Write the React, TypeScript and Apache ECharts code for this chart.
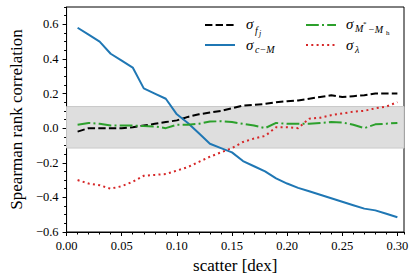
import React, { useEffect, useRef } from "react";
import * as echarts from "echarts";

const scatter = [
  0.01, 0.02, 0.03, 0.04, 0.05, 0.06, 0.07, 0.08, 0.09, 0.1,
  0.11, 0.12, 0.13, 0.14, 0.15, 0.16, 0.17, 0.18, 0.19, 0.2,
  0.21, 0.22, 0.23, 0.24, 0.25, 0.26, 0.27, 0.28, 0.29, 0.3,
];
const sigmaFj = [
  -0.02, 0.0, 0.0, 0.0, 0.0, 0.005, 0.015, 0.025, 0.035, 0.045,
  0.065, 0.08, 0.09, 0.1, 0.115, 0.13, 0.135, 0.14, 0.15, 0.155,
  0.16, 0.17, 0.18, 0.19, 0.18, 0.185, 0.19, 0.2, 0.2, 0.2,
];
const sigmaCM = [
  0.58, 0.54, 0.5, 0.43, 0.39, 0.35, 0.23, 0.2, 0.17, 0.08,
  0.03, -0.03, -0.09, -0.115, -0.14, -0.19, -0.22, -0.25, -0.29, -0.32,
  -0.345, -0.365, -0.385, -0.405, -0.425, -0.445, -0.465, -0.475, -0.495, -0.515,
];
const sigmaMsMh = [
  0.02, 0.03, 0.025, 0.015, 0.015, 0.015, 0.012, 0.01, 0.0, 0.02,
  0.02, 0.025, 0.038, 0.04, 0.035, 0.025, 0.015, 0.0, 0.03, 0.025,
  0.025, 0.025, 0.03, 0.035, 0.033, 0.02, 0.0, 0.022, 0.026, 0.03,
];
const sigmaLambda = [
  -0.3, -0.32, -0.33, -0.35, -0.335, -0.31, -0.275, -0.27, -0.265, -0.245,
  -0.225, -0.195, -0.165, -0.14, -0.115, -0.08, -0.06, -0.045, 0.005, 0.005,
  0.0, 0.055, 0.06, 0.075, 0.085, 0.095, 0.1, 0.115, 0.125, 0.15,
];
const bandLow = -0.115;
const bandHigh = 0.125;

const xMajorStep = 0.05;
const xMinorStep = 0.01;
const yMajorStep = 0.2;
const yMinorStep = 0.05;

const X_MIN = 0;
const X_MAX = 0.306;
const Y_MIN = -0.6;
const Y_MAX = 0.7;

const SERIF = "Liberation Serif";

export default function App() {
  const ref = useRef<HTMLDivElement>(null);
  useEffect(() => {
    if (!ref.current) return;
    const chart = echarts.init(ref.current, undefined, { renderer: "svg" });
    const pairs = (ys: number[]) => scatter.map((x, i) => [x, ys[i]]);
    const ls = () => ({ color: "#000", width: 1 });
    const labelStyle = { color: "#000", fontFamily: SERIF, fontSize: 12.5 };
    const nameStyle = { color: "#000", fontFamily: SERIF, fontSize: 17 };

    const txt = (t: string, x: number, y: number, size: number, italic = true) => ({
      type: "text",
      x,
      y,
      silent: true,
      style: {
        text: t,
        fontSize: size,
        fontFamily: SERIF,
        fontStyle: italic ? "italic" : "normal",
        fill: "#000",
        align: "left",
        verticalAlign: "middle",
      },
    });
    const handle = (x1: number, y: number, color: string, dash: number[] | null) => ({
      type: "line",
      silent: true,
      shape: { x1, y1: y, x2: x1 + 30, y2: y },
      style: { stroke: color, lineWidth: 2, lineDash: dash || undefined },
    });

    const option = {
      animation: false,
      grid: {
        left: 58,
        top: 7,
        right: 11,
        bottom: 47,
        show: true,
        borderColor: "#000",
        borderWidth: 1,
        backgroundColor: "transparent",
      },
      xAxis: [
        {
          type: "value",
          min: X_MIN,
          max: X_MAX,
          interval: xMajorStep,
          position: "bottom",
          axisLine: { show: true, onZero: false, lineStyle: ls() },
          axisTick: { show: true, length: 4, lineStyle: ls() },
          axisLabel: {
            ...labelStyle,
            margin: 7,
            showMaxLabel: false,
            formatter: (v: number) => v.toFixed(2),
          },
          splitLine: { show: false },
          name: "scatter [dex]",
          nameLocation: "middle",
          nameGap: 22,
          nameTextStyle: nameStyle,
        },
        {
          type: "value",
          min: X_MIN,
          max: X_MAX,
          interval: xMinorStep,
          position: "bottom",
          axisLine: { show: false, onZero: false },
          axisTick: { show: true, length: 2.5, lineStyle: ls() },
          axisLabel: { show: false },
          splitLine: { show: false },
        },
      ],
      yAxis: [
        {
          type: "value",
          min: Y_MIN,
          max: Y_MAX,
          interval: yMajorStep,
          position: "left",
          axisLine: { show: true, onZero: false, lineStyle: ls() },
          axisTick: { show: true, length: 4, lineStyle: ls() },
          axisLabel: {
            ...labelStyle,
            margin: 8,
            showMaxLabel: false,
            formatter: (v: number) => v.toFixed(1).replace("-", "\u2212"),
          },
          splitLine: { show: false },
          name: "Spearman rank correlation",
          nameLocation: "middle",
          nameGap: 34,
          nameTextStyle: nameStyle,
        },
        {
          type: "value",
          min: Y_MIN,
          max: Y_MAX,
          interval: yMinorStep,
          position: "left",
          axisLine: { show: false, onZero: false },
          axisTick: { show: true, length: 2.5, lineStyle: ls() },
          axisLabel: { show: false },
          splitLine: { show: false },
        },
      ],
      series: [
        {
          type: "line",
          data: [],
          silent: true,
          markArea: {
            silent: true,
            label: { show: false },
            itemStyle: { color: "#dedede", borderColor: "#cacaca", borderWidth: 1 },
            data: [[{ yAxis: bandLow }, { yAxis: bandHigh }]],
          },
        },
        {
          type: "line",
          name: "fj",
          data: pairs(sigmaFj),
          showSymbol: false,
          lineStyle: { color: "#000", width: 2, type: [7.4, 3.2] },
        },
        {
          type: "line",
          name: "cM",
          data: pairs(sigmaCM),
          showSymbol: false,
          lineStyle: { color: "#1f77b4", width: 2, type: "solid" },
        },
        {
          type: "line",
          name: "MsMh",
          data: pairs(sigmaMsMh),
          showSymbol: false,
          lineStyle: { color: "#2ca02c", width: 2, type: [12.8, 3.2, 2, 3.2] },
        },
        {
          type: "line",
          name: "lambda",
          data: pairs(sigmaLambda),
          showSymbol: false,
          lineStyle: { color: "#d62728", width: 2, type: [2, 3.3] },
        },
      ],
      graphic: [
        handle(205, 25, "#000", [7.4, 3.2]),
        txt("σ", 246, 24, 15),
        txt("f", 255, 30, 10),
        txt("j", 259, 33, 8),
        handle(205, 45, "#1f77b4", null),
        txt("σ", 246, 45, 15),
        txt("c\u2212M", 255, 49, 10),
        handle(306, 25, "#2ca02c", [12.8, 3.2, 2, 3.2]),
        txt("σ", 346, 24, 15),
        txt("M", 355, 28, 10),
        txt("*", 363, 24, 7, false),
        txt("\u2212M", 368, 29, 10),
        txt("h", 386, 33, 7, false),
        handle(306, 45, "#d62728", [2, 3.3]),
        txt("σ", 346, 45, 15),
        txt("λ", 355, 49, 10),
      ],
    };
    chart.setOption(option as any);
    return () => chart.dispose();
  }, []);
  return (
    <div
      ref={ref}
      style={{ position: "absolute", left: 0, top: 0, width: 415, height: 279 }}
    />
  );
}
